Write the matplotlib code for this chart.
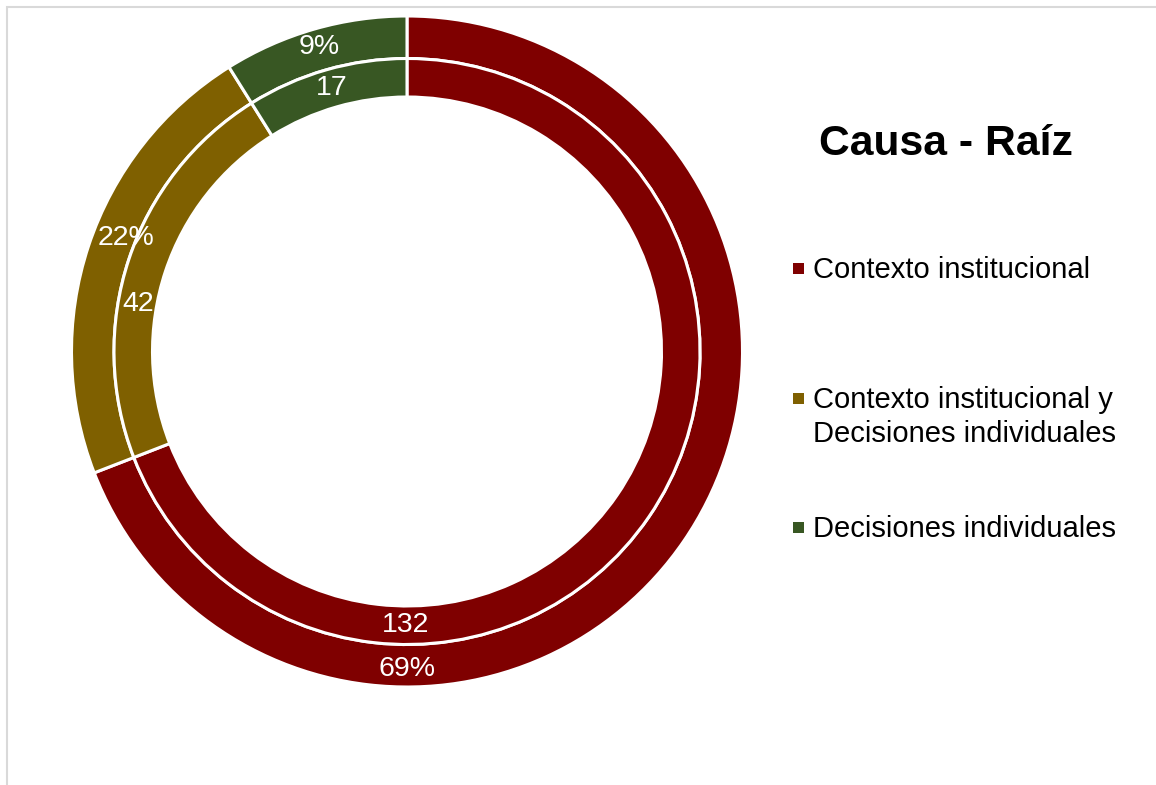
import numpy as np
import matplotlib.pyplot as plt
from matplotlib.patches import Rectangle

plt.rcParams["font.family"] = ["Liberation Sans", "DejaVu Sans"]

# ─── Data ────────────────────────────────────────────
categories = ["Contexto institucional",
              "Contexto institucional y\nDecisiones individuales",
              "Decisiones individuales"]
counts = [132, 42, 17]
percent_labels = ["69%", "22%", "9%"]
colors = ["#7F0000", "#7F6000", "#385723"]

# ─── Layout (pixel space, y up) ──────────────────────
W, H = 1156, 785
cx, cy = 407, H - 351.5
R_OUT, R_SEP, R_IN = 335.5, 293, 254.5

# label placement as Excel put them (angle in degrees, radius in px)
outer_lbl = [(-90, 317), (158, 303), (106, 317)]
inner_lbl = [(-90.4, 274), (169.9, 273), (106, 274)]

fig = plt.figure(figsize=(W / 100, H / 100), dpi=100)
ax = fig.add_axes([0, 0, 1, 1])

wedge_kw = dict(edgecolor="white", linewidth=2.2)
ax.pie(counts, colors=colors, radius=R_OUT, center=(cx, cy),
       startangle=90, counterclock=False, frame=True,
       wedgeprops=dict(width=R_OUT - R_SEP, **wedge_kw))
ax.pie(counts, colors=colors, radius=R_SEP, center=(cx, cy),
       startangle=90, counterclock=False, frame=True,
       wedgeprops=dict(width=R_SEP - R_IN, **wedge_kw))
ax.set_xlim(0, W)
ax.set_ylim(0, H)
ax.set_aspect("equal")
ax.axis("off")

for txt, (a, r) in zip(percent_labels, outer_lbl):
    t = np.deg2rad(a)
    ax.text(cx + r * np.cos(t), cy + r * np.sin(t), txt, color="white",
            fontsize=20.5, ha="center", va="center")
for n, (a, r) in zip(counts, inner_lbl):
    t = np.deg2rad(a)
    ax.text(cx + r * np.cos(t), cy + r * np.sin(t), str(n), color="white",
            fontsize=20.5, ha="center", va="center")

# title
ax.text(945.5, H - 155, "Causa - Raíz", fontsize=30.7, fontweight="bold",
        ha="center", va="baseline", color="black")

# legend (drawn by hand so the two-line entry sits like Excel's)
key_y = [268, 398.5, 527]
for lab, c, y in zip(categories, colors, key_y):
    ax.add_patch(Rectangle((793, H - y - 5.5), 11, 11, facecolor=c,
                           edgecolor="none"))
    # top of the text block ~ 22 px above the first baseline
    ax.text(813, H - (y + 10) + 22, lab, fontsize=21, ha="left", va="top",
            linespacing=1.27, color="black")

# chart-area border
fig.patches.append(Rectangle((7 / W, -0.01), 1.1, (H - 7) / H + 0.01,
                             transform=fig.transFigure, fill=False,
                             edgecolor="#D9D9D9", linewidth=1.5))

fig.savefig("out.png", dpi=100)
